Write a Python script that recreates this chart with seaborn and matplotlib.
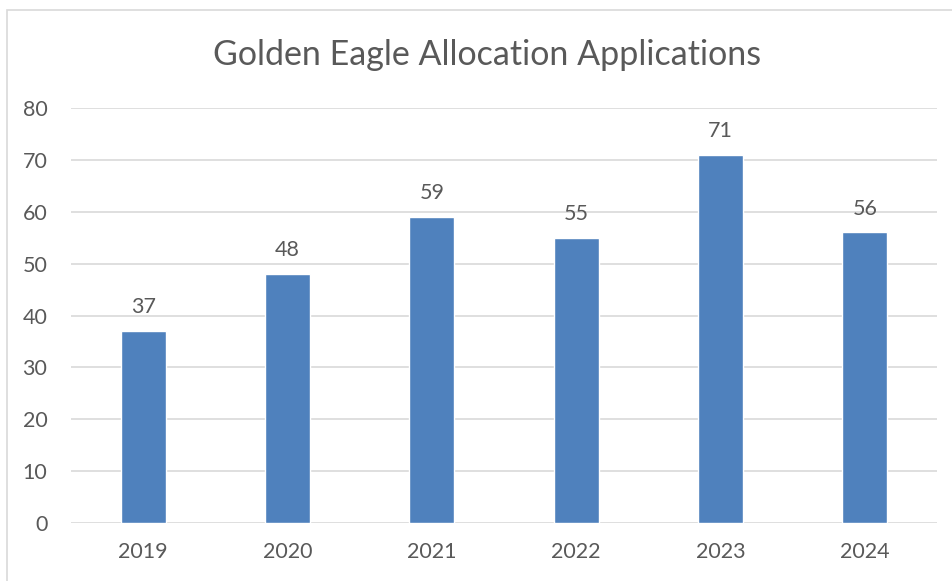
import matplotlib
matplotlib.use("Agg")
import matplotlib.pyplot as plt
import seaborn as sns
import pandas as pd
from matplotlib.patches import Rectangle

years = ["2019", "2020", "2021", "2022", "2023", "2024"]
applications = [37, 48, 59, 55, 71, 56]
y_ticks = [0, 10, 20, 30, 40, 50, 60, 70, 80]
title = "Golden Eagle Allocation Applications"

BAR_COLOR = "#4F81BD"
TEXT_COLOR = "#595959"
GRID_COLOR = "#D9D9D9"

sns.set_theme(style="white")
plt.rcParams["font.family"] = ["Lato", "DejaVu Sans"]

df = pd.DataFrame({"year": years, "count": applications})

fig = plt.figure(figsize=(9.52, 5.81), dpi=100)
fig.patch.set_facecolor("white")

# chart frame
fig.patches.append(Rectangle((7 / 952, -0.1), 1.2, (581 - 10) / 581 + 0.1,
                             transform=fig.transFigure, fill=False,
                             edgecolor="#D9D9D9", linewidth=1.2))

ax = fig.add_axes([71 / 952, 58 / 581, (937 - 71) / 952, (523 - 108) / 581])
sns.barplot(data=df, x="year", y="count", color=BAR_COLOR, saturation=1,
            width=0.31, ax=ax, zorder=3)

ax.set_ylim(0, 80)
ax.set_yticks(y_ticks)
ax.set_xlim(-0.5, len(years) - 0.5)
ax.yaxis.grid(True, color=GRID_COLOR, linewidth=1.2, zorder=0)
ax.set_axisbelow(True)
for s in ax.spines.values():
    s.set_visible(False)
ax.set_xlabel("")
ax.set_ylabel("")
ax.tick_params(axis="both", length=0, labelsize=15.5, labelcolor=TEXT_COLOR)
ax.tick_params(axis="y", pad=17)
ax.tick_params(axis="x", pad=14)

for i, v in enumerate(applications):
    ax.annotate(str(v), (i, v), xytext=(0, 10), textcoords="offset points",
                ha="center", va="bottom", fontsize=15.5, color=TEXT_COLOR)

fig.text(487 / 952, 1 - 55 / 581, title, ha="center", va="center",
         fontsize=24.5, color=TEXT_COLOR)

fig.savefig("out.png", dpi=100)
